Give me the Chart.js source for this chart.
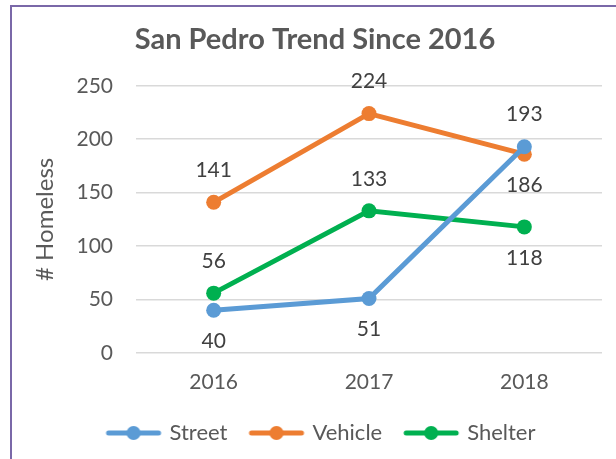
<!DOCTYPE html>
<html>
<head>
<meta charset="utf-8">
<script src="https://cdn.jsdelivr.net/npm/chart.js@4.4.1/dist/chart.umd.min.js"></script>
<style>
  html, body { margin: 0; padding: 0; background: #fff; }
  #wrap { position: relative; width: 616px; height: 459px; }
  #frame { position: absolute; left: 10px; top: 5px; width: 620px; height: 470px;
           border-top: 2px solid #7a68a8; border-left: 2px solid #7a68a8; }
  canvas { position: absolute; left: 0; top: 0; }
</style>
</head>
<body>
<div id="wrap">
  <div id="frame"></div>
  <canvas id="trend-chart" width="616" height="459"></canvas>
</div>
<script>
const years = ['2016', '2017', '2018'];
const street = [40, 51, 193];
const vehicle = [141, 224, 186];
const shelter = [56, 133, 118];
const yTicks = [0, 50, 100, 150, 200, 250];

// where each value label sits relative to its point
const streetLabelPos = ['below', 'below', 'above'];
const vehicleLabelPos = ['above', 'above', 'below'];
const shelterLabelPos = ['above', 'above', 'below'];

const textColor = '#595959';
const fontFamily = 'Lato, "Open Sans", sans-serif';

// line-with-dot marker for the legend, with blank space on the left
function legendMarker(color) {
    const c = document.createElement('canvas');
    c.width = 74;
    c.height = 16;
    const g = c.getContext('2d');
    g.strokeStyle = color;
    g.lineWidth = 5;
    g.lineCap = 'round';
    g.beginPath();
    g.moveTo(19, 8);
    g.lineTo(69, 8);
    g.stroke();
    g.fillStyle = color;
    g.beginPath();
    g.arc(44, 8, 7, 0, Math.PI * 2);
    g.fill();
    return c;
}

function makeSeries(label, data, color, labelPos) {
    return {
        label: label,
        data: data,
        borderColor: color,
        backgroundColor: color,
        borderWidth: 5,
        pointRadius: 7.5,
        pointHoverRadius: 7.5,
        pointBorderWidth: 0,
        pointStyle: 'circle',
        legendMarker: legendMarker(color),
        labelPos: labelPos,
        tension: 0
    };
}

const valueLabels = {
    id: 'valueLabels',
    afterDatasetsDraw(chart) {
        const ctx = chart.ctx;
        ctx.save();
        ctx.font = '21px ' + fontFamily;
        ctx.fillStyle = '#404040';
        ctx.textAlign = 'center';
        ctx.textBaseline = 'middle';
        chart.data.datasets.forEach((ds, i) => {
            const meta = chart.getDatasetMeta(i);
            meta.data.forEach((pt, j) => {
                const dy = ds.labelPos[j] === 'above' ? -32 : 31;
                ctx.fillText(String(ds.data[j]), pt.x, pt.y + dy);
            });
        });
        ctx.restore();
    }
};

const ctx = document.getElementById('trend-chart').getContext('2d');
new Chart(ctx, {
    type: 'line',
    data: {
        labels: years,
        datasets: [
            makeSeries('Street', street, '#5b9bd5', streetLabelPos),
            makeSeries('Vehicle', vehicle, '#ed7d31', vehicleLabelPos),
            makeSeries('Shelter', shelter, '#00b050', shelterLabelPos)
        ]
    },
    options: {
        responsive: false,
        animation: false,
        events: [],
        layout: {
            padding: { left: 28, right: 14, top: 16, bottom: 5 }
        },
        scales: {
            x: {
                offset: true,
                afterFit: (scale) => { scale.height = 59; },
                grid: { display: false, drawTicks: false },
                border: { display: false },
                ticks: {
                    color: textColor,
                    font: { family: fontFamily, size: 21 },
                    padding: 17
                }
            },
            y: {
                min: 0,
                max: 250,
                afterFit: (scale) => { scale.width = 108; },
                afterBuildTicks: (scale) => {
                    scale.ticks = yTicks.map(v => ({ value: v }));
                },
                grid: { color: '#d9d9d9', lineWidth: 1.5, drawTicks: false },
                border: { display: false },
                ticks: {
                    color: textColor,
                    font: { family: fontFamily, size: 21 },
                    padding: 23
                },
                title: {
                    display: true,
                    text: '# Homeless',
                    color: textColor,
                    font: { family: fontFamily, size: 24 },
                    padding: { top: 3, bottom: 0 }
                }
            }
        },
        plugins: {
            title: {
                display: true,
                text: 'San Pedro Trend Since 2016',
                color: textColor,
                font: { family: fontFamily, size: 29, weight: 'bold' },
                padding: { top: 6, bottom: 29 }
            },
            legend: {
                position: 'bottom',
                labels: {
                    color: textColor,
                    font: { family: fontFamily, size: 22 },
                    usePointStyle: true,
                    pointStyleWidth: 64,
                    padding: 10,
                    generateLabels: (chart) => chart.data.datasets.map((ds, i) => ({
                        text: ds.label,
                        pointStyle: ds.legendMarker,
                        fillStyle: ds.borderColor,
                        strokeStyle: ds.borderColor,
                        lineWidth: 0,
                        fontColor: textColor,
                        datasetIndex: i
                    }))
                }
            },
            tooltip: { enabled: false }
        }
    },
    plugins: [valueLabels]
});
</script>
</body>
</html>
